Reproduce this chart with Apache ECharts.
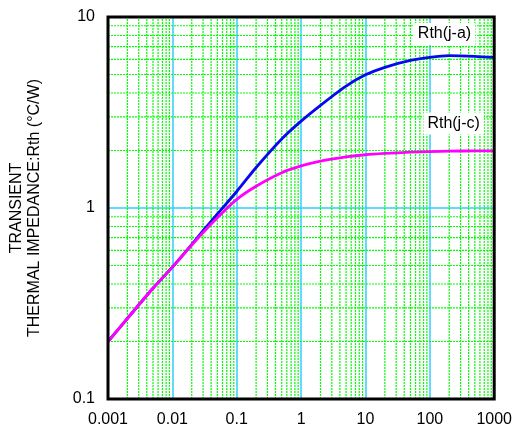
<!DOCTYPE html>
<html>
<head>
<meta charset="utf-8">
<script src="https://cdn.jsdelivr.net/npm/echarts@6/dist/echarts.min.js"></script>
<style>html,body{margin:0;padding:0;background:#fff;}#c{width:515px;height:428px;}</style>
</head>
<body>
<div id="c"></div>
<script>
// ---- data ----
const timeValues = [0.001, 0.002, 0.005, 0.01, 0.02, 0.03, 0.05, 0.1, 0.2, 0.5, 1, 2, 5, 10, 20, 50, 100, 200, 500, 1000];
const rthJA = [0.2, 0.264, 0.38, 0.49, 0.645, 0.76, 0.93, 1.22, 1.63, 2.3, 2.85, 3.45, 4.35, 4.98, 5.45, 5.92, 6.15, 6.27, 6.22, 6.14];
const rthJC = [0.2, 0.264, 0.38, 0.49, 0.64, 0.745, 0.89, 1.11, 1.3, 1.53, 1.66, 1.76, 1.85, 1.9, 1.93, 1.96, 1.975, 1.985, 1.99, 1.99];
const seriesNames = ['Rth(j-a)', 'Rth(j-c)'];
const labelPosJA = [169, 8.15];
const labelPosJC = [234, 2.77];
const xTickLabels = ['0.001', '0.01', '0.1', '1', '10', '100', '1000'];
const yTickLabels = ['0.1', '1', '10'];
const yTitle = 'TRANSIENT\nTHERMAL IMPEDANCE:Rth (°C/W)';
const xRange = [0.001, 1000];
const yRange = [0.1, 10];

// minor grid positions (2..9 within each decade)
const minorX = [];
for (let e = -3; e <= 2; e++) for (let m = 2; m <= 9; m++) minorX.push(+(m * Math.pow(10, e)).toPrecision(3));
const minorY = [];
for (let e = -1; e <= 0; e++) for (let m = 2; m <= 9; m++) minorY.push(+(m * Math.pow(10, e)).toPrecision(3));

const FONT = 'Liberation Sans, Arial, sans-serif';
function fmt(labels) {
  return function (v) {
    for (const l of labels) { if (Math.abs(Math.log10(v) - Math.log10(parseFloat(l))) < 1e-6) return l; }
    return '';
  };
}
const minorStyle = { color: '#00ff00', width: 1.2, type: [2, 1] };
const gridSeries = minorX.map(v => ({ type: 'line', silent: true, z: 1, symbol: 'none', lineStyle: minorStyle, data: [[v, yRange[0]], [v, yRange[1]]] }))
  .concat(minorY.map(v => ({ type: 'line', silent: true, z: 1, symbol: 'none', lineStyle: minorStyle, data: [[xRange[0], v], [xRange[1], v]] })));

const chart = echarts.init(document.getElementById('c'));
chart.setOption({
  animation: false,
  backgroundColor: '#fff',
  grid: { left: 107, top: 17, right: 19, bottom: 27, show: true, borderColor: '#000', borderWidth: 3, backgroundColor: 'transparent', z: 20 },
  xAxis: {
    type: 'log', logBase: 10, min: xRange[0], max: xRange[1], interval: 1,
    axisLine: { show: false }, axisTick: { show: false },
    axisLabel: { formatter: fmt(xTickLabels), color: '#000', fontSize: 16, fontFamily: FONT, margin: 13, showMinLabel: true, showMaxLabel: true },
    splitLine: { show: true, lineStyle: { color: '#33ccff', width: 1.5, type: 'solid' } }
  },
  yAxis: {
    type: 'log', logBase: 10, min: yRange[0], max: yRange[1], interval: 1,
    axisLine: { show: false }, axisTick: { show: false },
    axisLabel: { formatter: fmt(yTickLabels), color: '#000', fontSize: 16, fontFamily: FONT, margin: 13 },
    splitLine: { show: true, lineStyle: { color: '#33ccff', width: 1.5, type: 'solid' } },
    name: yTitle, nameLocation: 'middle', nameRotate: 90, nameGap: 64,
    nameTextStyle: { color: '#000', fontSize: 16, fontFamily: FONT, lineHeight: 18, align: 'center' }
  },
  series: gridSeries.concat([
    {
      name: seriesNames[0], type: 'line', z: 5, smooth: 0.25, showSymbol: false,
      lineStyle: { color: '#0808ee', width: 2.8 },
      data: timeValues.map((t, i) => [t, rthJA[i]]),
      markPoint: {
        symbol: 'circle', symbolSize: 1, itemStyle: { color: 'rgba(0,0,0,0)' }, z: 6,
        label: { show: true, position: 'inside', formatter: seriesNames[0], color: '#000', fontSize: 16, fontFamily: FONT, backgroundColor: '#fff', padding: [3, 4] },
        data: [{ coord: labelPosJA }]
      }
    },
    {
      name: seriesNames[1], type: 'line', z: 5, smooth: 0.25, showSymbol: false,
      lineStyle: { color: '#ff00ff', width: 2.8 },
      data: timeValues.map((t, i) => [t, rthJC[i]]),
      markPoint: {
        symbol: 'circle', symbolSize: 1, itemStyle: { color: 'rgba(0,0,0,0)' }, z: 6,
        label: { show: true, position: 'inside', formatter: seriesNames[1], color: '#000', fontSize: 16, fontFamily: FONT, backgroundColor: '#fff', padding: [3, 4] },
        data: [{ coord: labelPosJC }]
      }
    }
  ])
});
</script>
</body>
</html>
